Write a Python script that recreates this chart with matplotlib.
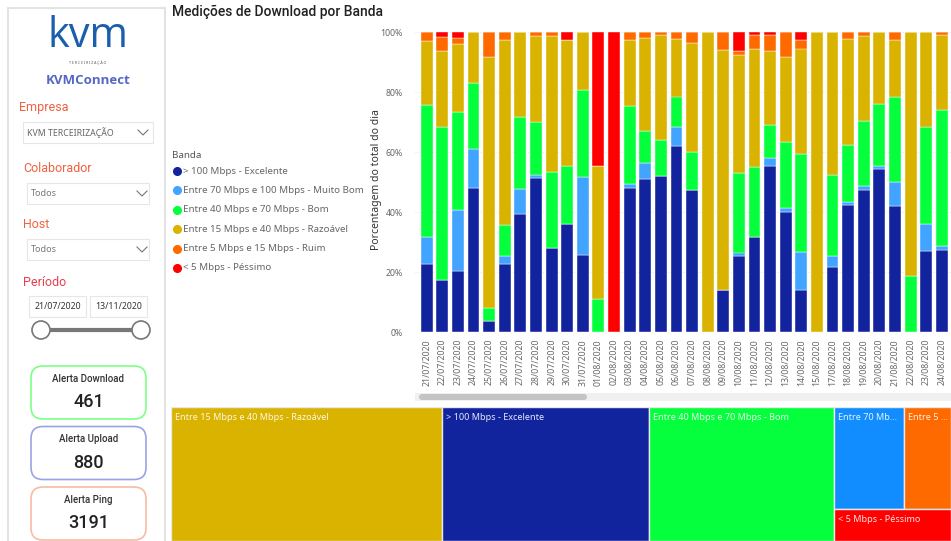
import matplotlib.pyplot as plt
from matplotlib.patches import Rectangle, FancyBboxPatch, Circle

# dates shown on the x axis (16/08 has no data)
dates = ['21/07/2020', '22/07/2020', '23/07/2020', '24/07/2020', '25/07/2020', '26/07/2020',
         '27/07/2020', '28/07/2020', '29/07/2020', '30/07/2020', '31/07/2020', '01/08/2020',
         '02/08/2020', '03/08/2020', '04/08/2020', '05/08/2020', '06/08/2020', '07/08/2020',
         '08/08/2020', '09/08/2020', '10/08/2020', '11/08/2020', '12/08/2020', '13/08/2020',
         '14/08/2020', '15/08/2020', '17/08/2020', '18/08/2020', '19/08/2020', '20/08/2020',
         '21/08/2020', '22/08/2020', '23/08/2020', '24/08/2020']

bands = ['> 100 Mbps - Excelente', 'Entre 70 Mbps e 100 Mbps - Muito Bom',
         'Entre 40 Mbps e 70 Mbps - Bom', 'Entre 15 Mbps e 40 Mbps - Razoável',
         'Entre 5 Mbps e 15 Mbps - Ruim', '< 5 Mbps - Péssimo']
colors = ['#12239E', '#41A4FF', '#05FF3C', '#D9B300', '#FF6A00', '#FF0000']

# percentage of the day's measurements in each band
excelente = [22.6, 17.3, 20.2, 47.9, 3.8, 22.8, 39.2, 51.2, 27.9, 35.9, 25.7, 0, 0, 47.9, 51.0, 52.1, 62.0,
             47.5, 0, 14.1, 25.2, 31.7, 55.4, 40.1, 14.0, 0, 21.7, 42.4, 47.2, 54.3, 41.9, 0, 27.1, 27.3]
muito_bom = [9.1, 0, 20.5, 13.1, 0, 2.7, 8.5, 1.3, 0, 0, 25.9, 0, 0, 1.3, 5.3, 0, 6.4,
             0, 0, 0, 1.3, 0, 2.5, 1.4, 12.6, 0, 3.6, 1.1, 1.4, 0.9, 8.0, 0, 9.0, 1.3]
bom = [43.9, 51.0, 32.7, 22.1, 4.2, 10.2, 24.0, 17.6, 25.5, 19.5, 29.0, 11.1, 0, 26.2, 10.7, 11.9, 10.1,
       12.4, 0, 0, 26.6, 23.4, 11.1, 21.9, 32.6, 0, 27.2, 18.8, 21.7, 20.9, 28.6, 18.8, 32.2, 45.3]
razoavel = [21.3, 25.3, 22.6, 16.9, 83.6, 61.6, 28.3, 28.6, 45.3, 41.9, 19.4, 44.3, 0, 21.8, 31.0, 35.1, 19.1,
            36.6, 100, 79.8, 39.4, 39.1, 24.6, 28.3, 35.3, 100, 47.5, 35.5, 28.4, 23.9, 18.8, 81.2, 31.7, 25.0]
ruim = [3.1, 4.8, 2.0, 0, 8.4, 2.7, 0, 1.3, 1.3, 0, 0, 0, 0, 2.8, 2.0, 0.9, 2.4,
        3.5, 0, 6.1, 1.3, 4.7, 5.3, 8.3, 2.7, 0, 0, 2.2, 1.3, 0, 2.7, 0, 0, 1.1]
pessimo = [0, 1.6, 2.0, 0, 0, 0, 0, 0, 0, 2.7, 0, 44.6, 100, 0, 0, 0, 0,
           0, 0, 0, 6.2, 1.1, 1.1, 0, 2.8, 0, 0, 0, 0, 0, 0, 0, 0, 0]
series = [excelente, muito_bom, bom, razoavel, ruim, pessimo]

# treemap: total measurements per band (relative)
tree_labels = ['Entre 15 Mbps e 40 Mbps - Razoável', '> 100 Mbps - Excelente',
               'Entre 40 Mbps e 70 Mbps - Bom', 'Entre 70 Mb...', 'Entre 5 ...', '< 5 Mbps - Péssimo']
tree_values = [269, 205, 183, 53, 35, 28]
tree_colors = ['#D9B300', '#12239E', '#05FF3C', '#118DFF', '#FF6A00', '#FF0000']

# cards
card_titles = ['Alerta Download', 'Alerta Upload', 'Alerta Ping']
card_values = ['461', '880', '3191']
card_edges = ['#7DFF86', '#9AA3E3', '#F8BBA3']

plt.rcParams['font.family'] = ['Noto Sans', 'DejaVu Sans']

W, H = 951, 541
fig = plt.figure(figsize=(W / 100, H / 100), dpi=100)
fig.patch.set_facecolor('white')

# background axes in pixel coordinates (y down)
bg = fig.add_axes([0, 0, 1, 1])
bg.set_xlim(0, W)
bg.set_ylim(H, 0)
bg.axis('off')

# ---------------- left panel ----------------
bg.add_patch(Rectangle((8, 8), 157, 545, facecolor='white', edgecolor='#E3E3E3', lw=1.5))
bg.text(88, 36, 'kvm', fontsize=30, color='#1A5FAE', ha='center', va='center', family='Open Sans')
bg.text(88, 63, 'T E R C E I R I Z A Ç Ã O', fontsize=2.6, color='#555555', ha='center', va='center')
bg.text(88, 80, 'KVMConnect', fontsize=9.5, color='#5468C4', ha='center', va='center',
        family='Open Sans', weight='bold')

label_red = '#F1603F'
lab = dict(fontsize=9, va='center', family='Roboto')
bg.text(19, 107, 'Empresa', color=label_red, **lab)
bg.add_patch(Rectangle((23, 122), 130, 21, facecolor='white', edgecolor='#E6E6E6', lw=0.8))
bg.text(27, 132.5, 'KVM TERCEIRIZAÇÃO', fontsize=6.3, color='#666666', va='center')
for x0, y0 in [(143, 132.5), (142, 193.5), (142, 249.5)]:
    bg.plot([x0 - 5, x0, x0 + 5], [y0 - 2.5, y0 + 2.5, y0 - 2.5], color='#777777', lw=0.8)

bg.text(23, 169, 'Colaborador', color=label_red, **lab)
bg.add_patch(Rectangle((27, 183), 122, 21, facecolor='white', edgecolor='#E6E6E6', lw=0.8))
bg.text(31, 193.5, 'Todos', fontsize=6.5, color='#777777', va='center')

bg.text(23, 225, 'Host', color=label_red, **lab)
bg.add_patch(Rectangle((27, 239), 122, 21, facecolor='white', edgecolor='#E6E6E6', lw=0.8))
bg.text(31, 249.5, 'Todos', fontsize=6.5, color='#777777', va='center')

bg.text(23, 282, 'Período', color='#E8404F', **lab)
bg.add_patch(Rectangle((29, 296), 57, 21, facecolor='white', edgecolor='#E6E6E6', lw=0.8))
bg.add_patch(Rectangle((90, 296), 57, 21, facecolor='white', edgecolor='#E6E6E6', lw=0.8))
bg.text(57.5, 306.5, '21/07/2020', fontsize=6.3, color='#333333', ha='center', va='center')
bg.text(118.5, 306.5, '13/11/2020', fontsize=6.3, color='#333333', ha='center', va='center')
bg.plot([41, 141], [330, 330], color='#777777', lw=3, solid_capstyle='round')
for cx in (41, 141):
    bg.add_patch(Circle((cx, 330), 9, facecolor='white', edgecolor='#777777', lw=1.2, zorder=3))

for i, (t, v, ec) in enumerate(zip(card_titles, card_values, card_edges)):
    y0 = 366 + i * 60.5
    bg.add_patch(FancyBboxPatch((31, y0), 115, 53, boxstyle='round,pad=0,rounding_size=12',
                                facecolor='white', edgecolor=ec, lw=1.2))
    bg.text(88.5, y0 + 13, t, fontsize=7, color='#333333', ha='center', va='center',
            family='Roboto', weight='medium')
    bg.text(88.5, y0 + 36, v, fontsize=13, color='#222222', ha='center', va='center',
            family='Roboto', weight='medium')

# ---------------- title + legend ----------------
bg.text(172, 12, 'Medições de Download por Banda', fontsize=10, color='#222222', va='center',
        family='Roboto', weight='medium')
bg.text(172, 155, 'Banda', fontsize=7, color='#555555', va='center', weight='bold')
for i, (b, c) in enumerate(zip(bands, colors)):
    y0 = 171 + i * 19.4
    bg.plot(177, y0, 'o', color=c, ms=5.5)
    bg.text(183, y0, b, fontsize=7, color='#666666', va='center')

bg.text(377, 180, 'Porcentagem do total do dia', fontsize=7.5, color='#333333', rotation=90,
        ha='center', va='center')

# scrollbar
bg.add_patch(Rectangle((415, 393), 536, 8, facecolor='#F0F0F0', edgecolor='none'))
bg.add_patch(FancyBboxPatch((419, 394), 168, 6, boxstyle='round,pad=0,rounding_size=3',
                            facecolor='#C4C4C4', edgecolor='none'))

# ---------------- stacked 100% column chart ----------------
ax = fig.add_axes([415 / W, (H - 332) / H, (W - 415) / W, 300 / H])
x = list(range(len(dates)))
bottom = [0.0] * len(dates)
for vals, c in zip(series, colors):
    ax.bar(x, vals, bottom=bottom, width=0.76, color=c, edgecolor='white', linewidth=0.3)
    bottom = [b + v for b, v in zip(bottom, vals)]
ax.set_xlim(-0.75, 33.59)
ax.set_ylim(0, 100)
ax.set_yticks([0, 20, 40, 60, 80, 100])
ax.set_yticklabels(['0%', '20%', '40%', '60%', '80%', '100%'])
ax.set_xticks(x)
ax.set_xticklabels(dates, rotation=90)
ax.tick_params(axis='both', length=0, labelsize=6.3, labelcolor='#666666')
ax.tick_params(axis='y', pad=9)
ax.tick_params(axis='x', pad=5)
ax.grid(axis='y', color='#DDDDDD', linestyle=(0, (1, 2)), lw=0.6)
ax.set_axisbelow(True)
for s in ax.spines.values():
    s.set_visible(False)

# ---------------- treemap ----------------
tm = fig.add_axes([171 / W, 0, (W - 171) / W, (H - 407) / H])
tm.set_xlim(0, 780)
tm.set_ylim(134, 0)
tm.axis('off')
# first three bands take full-height columns, the rest share the last column
col_w = 780 / sum(tree_values)
x0 = 0
for i in range(3):
    w = tree_values[i] * col_w
    tm.add_patch(Rectangle((x0, 0), w, 134, facecolor=tree_colors[i], edgecolor='#E8E8E8', lw=1))
    tm.text(x0 + 4, 10, tree_labels[i], fontsize=6.5, color='white', va='center', alpha=0.9)
    x0 += w
rest_w = 780 - x0
top_h = (tree_values[3] + tree_values[4]) / sum(tree_values[3:]) * 134
xx = x0
for i in (3, 4):
    w = tree_values[i] / (tree_values[3] + tree_values[4]) * rest_w
    tm.add_patch(Rectangle((xx, 0), w, top_h, facecolor=tree_colors[i], edgecolor='#E8E8E8', lw=1))
    tm.text(xx + 4, 10, tree_labels[i], fontsize=6.5, color='white', va='center', alpha=0.9)
    xx += w
tm.add_patch(Rectangle((x0, top_h), rest_w, 134 - top_h, facecolor=tree_colors[5], edgecolor='#E8E8E8', lw=1))
tm.text(x0 + 4, top_h + 11, tree_labels[5], fontsize=6.5, color='white', va='center', alpha=0.9)

fig.savefig('out.png', dpi=100)
